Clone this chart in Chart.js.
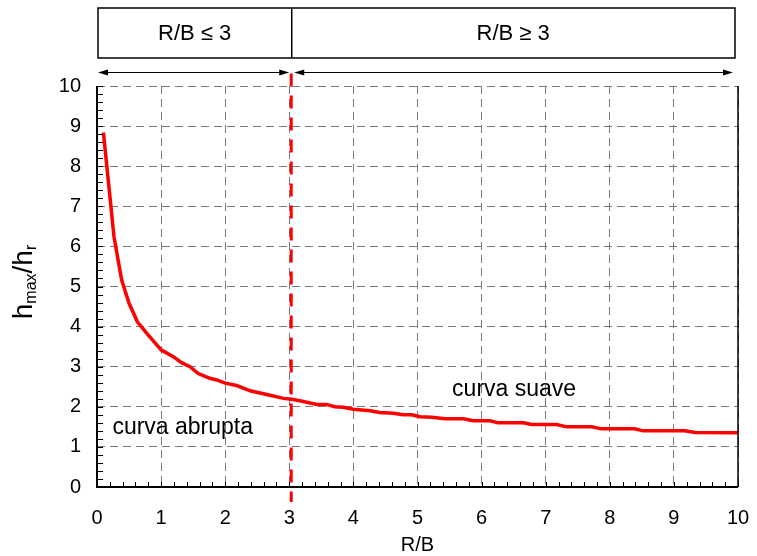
<!DOCTYPE html>
<html>
<head>
<meta charset="utf-8">
<script src="https://cdn.jsdelivr.net/npm/chart.js@4.4.1/dist/chart.umd.min.js"></script>
<style>
  html, body { margin: 0; padding: 0; background: #fff; }
</style>
</head>
<body>
<canvas id="ratioChart" width="757" height="556"></canvas>
<script>
// values
const rbValues = [0.10, 0.265, 0.385, 0.50, 0.63, 0.80, 1.00, 1.19, 1.32, 1.45, 1.58, 1.76, 1.87, 2.00, 2.18, 2.39,
  2.70, 2.91, 3.04, 3.22, 3.43, 3.58, 3.71, 3.84, 4.00, 4.13, 4.26, 4.41, 4.62, 4.78, 4.91, 5.04, 5.22, 5.43,
  5.72, 5.87, 6.13, 6.26, 6.65, 6.78, 7.17, 7.33, 7.72, 7.87, 8.39, 8.52, 9.17, 9.33, 10.0];
const ratioValues = [8.84, 6.24, 5.16, 4.58, 4.12, 3.79, 3.42, 3.25, 3.10, 3.00, 2.83, 2.71, 2.67, 2.59, 2.53, 2.40,
  2.29, 2.21, 2.19, 2.13, 2.06, 2.06, 2.00, 1.99, 1.94, 1.92, 1.90, 1.86, 1.84, 1.80, 1.80, 1.75, 1.74, 1.70,
  1.70, 1.65, 1.65, 1.60, 1.60, 1.56, 1.56, 1.50, 1.50, 1.45, 1.45, 1.40, 1.40, 1.36, 1.35];
const axisTicks = [0, 1, 2, 3, 4, 5, 6, 7, 8, 9, 10];
const regionLabels = ['R/B \u2264 3', 'R/B \u2265 3'];
const regionLimit = 3.03;
const noteLabels = ['curva abrupta', 'curva suave'];

const FONT = '"Liberation Sans", Arial, sans-serif';

const decorPlugin = {
    id: 'decor',
    afterDraw(chart) {
        const { ctx, chartArea: a, scales } = chart;
        const xs = scales.x, ys = scales.y;
        ctx.save();

        // axes frame
        ctx.strokeStyle = '#000';
        ctx.setLineDash([]);
        ctx.lineWidth = 2;
        ctx.beginPath();
        ctx.moveTo(a.left, a.top);
        ctx.lineTo(a.left, a.bottom);
        ctx.lineTo(a.right, a.bottom);
        ctx.stroke();
        ctx.lineWidth = 1.5;
        ctx.beginPath();
        ctx.moveTo(a.right, a.bottom);
        ctx.lineTo(a.right, a.top);
        ctx.stroke();

        // minor tick marks every 0.2, pointing inside
        ctx.lineWidth = 1;
        ctx.beginPath();
        for (let i = 0; i <= 50; i++) {
            const v = i / 5;
            const px = Math.round(xs.getPixelForValue(v)) + 0.5;
            ctx.moveTo(px, a.bottom);
            ctx.lineTo(px, a.bottom - 5);
            const py = Math.round(ys.getPixelForValue(v)) + 0.5;
            ctx.moveTo(a.left, py);
            ctx.lineTo(a.left + 6, py);
        }
        ctx.stroke();

        // region boxes on top
        const limitPx = xs.getPixelForValue(regionLimit);
        const boxL = a.left + 1, boxR = a.right - 3, boxT = 8, boxB = 58;
        ctx.lineWidth = 1.5;
        ctx.strokeRect(boxL, boxT, boxR - boxL, boxB - boxT);
        ctx.beginPath();
        ctx.moveTo(limitPx + 0.5, boxT);
        ctx.lineTo(limitPx + 0.5, boxB);
        ctx.stroke();

        ctx.fillStyle = '#000';
        ctx.font = '22px ' + FONT;
        ctx.textAlign = 'center';
        ctx.textBaseline = 'middle';
        ctx.fillText(regionLabels[0], (boxL + limitPx) / 2, 34);
        ctx.fillText(regionLabels[1], (limitPx + boxR) / 2, 34);

        // double arrows
        const arrowY = 72.5;
        const drawArrow = (x1, x2) => {
            ctx.lineWidth = 1.2;
            ctx.beginPath();
            ctx.moveTo(x1 + 4, arrowY);
            ctx.lineTo(x2 - 4, arrowY);
            ctx.stroke();
            ctx.beginPath();
            ctx.moveTo(x1, arrowY);
            ctx.lineTo(x1 + 10, arrowY - 3);
            ctx.lineTo(x1 + 10, arrowY + 3);
            ctx.closePath();
            ctx.moveTo(x2, arrowY);
            ctx.lineTo(x2 - 10, arrowY - 3);
            ctx.lineTo(x2 - 10, arrowY + 3);
            ctx.closePath();
            ctx.fill();
        };
        drawArrow(a.left + 1, limitPx - 2);
        drawArrow(limitPx + 3, boxR - 2);

        // red dashed limit line
        ctx.strokeStyle = '#ff0000';
        ctx.lineWidth = 3;
        ctx.setLineDash([13, 9]);
        ctx.beginPath();
        ctx.moveTo(limitPx, arrowY + 1);
        ctx.lineTo(limitPx, a.bottom + 15);
        ctx.stroke();
        ctx.setLineDash([]);

        // notes inside the plot
        ctx.fillStyle = '#000';
        ctx.font = '23px ' + FONT;
        ctx.textAlign = 'left';
        ctx.fillText(noteLabels[0], xs.getPixelForValue(0.24), ys.getPixelForValue(1.48));
        ctx.fillText(noteLabels[1], xs.getPixelForValue(5.54), ys.getPixelForValue(2.42));

        // x axis title
        ctx.textAlign = 'center';
        ctx.font = '20px ' + FONT;
        ctx.fillText('R/B', (a.left + a.right) / 2, 545);

        // y axis title with subscripts
        ctx.translate(24, 282);
        ctx.rotate(-Math.PI / 2);
        const big = '28px ' + FONT, small = '16px ' + FONT;
        const parts = [['h', big, 0], ['max', small, 8], ['/h', big, 0], ['r', small, 8]];
        let total = 0;
        parts.forEach(p => { ctx.font = p[1]; total += ctx.measureText(p[0]).width; });
        let cx = -total / 2;
        ctx.textAlign = 'left';
        parts.forEach(p => {
            ctx.font = p[1];
            ctx.fillText(p[0], cx, p[2]);
            cx += ctx.measureText(p[0]).width;
        });

        ctx.restore();
    }
};

new Chart(document.getElementById('ratioChart'), {
    type: 'scatter',
    data: {
        datasets: [{
            data: rbValues.map((x, i) => ({ x: x, y: ratioValues[i] })),
            showLine: true,
            borderColor: '#ff0000',
            borderWidth: 3.5,
            pointRadius: 0,
            tension: 0
        }]
    },
    options: {
        responsive: false,
        animation: false,
        devicePixelRatio: 1,
        layout: { padding: { top: 86, right: 19, left: 0, bottom: 0 } },
        plugins: { legend: { display: false }, tooltip: { enabled: false } },
        scales: {
            x: {
                type: 'linear', min: 0, max: 10,
                afterBuildTicks: s => { s.ticks = axisTicks.map(v => ({ value: v })); },
                afterFit: s => {
                    s.height = 69;
                    s.paddingLeft = 0;
                    s.paddingRight = 0;
                },
                ticks: { color: '#000', font: { family: FONT, size: 20 }, padding: 19, maxRotation: 0 },
                grid: { color: '#7a7a7a', lineWidth: 1, drawTicks: false },
                border: { display: false, dash: [8, 5] }
            },
            y: {
                type: 'linear', min: 0, max: 10,
                afterBuildTicks: s => { s.ticks = axisTicks.map(v => ({ value: v })); },
                afterFit: s => {
                    s.width = 97;
                    s.paddingTop = 0;
                    s.paddingBottom = 0;
                },
                ticks: { color: '#000', font: { family: FONT, size: 20 }, padding: 16 },
                grid: { color: '#7a7a7a', lineWidth: 1, drawTicks: false },
                border: { display: false, dash: [8, 5] }
            }
        }
    },
    plugins: [decorPlugin]
});
</script>
</body>
</html>
